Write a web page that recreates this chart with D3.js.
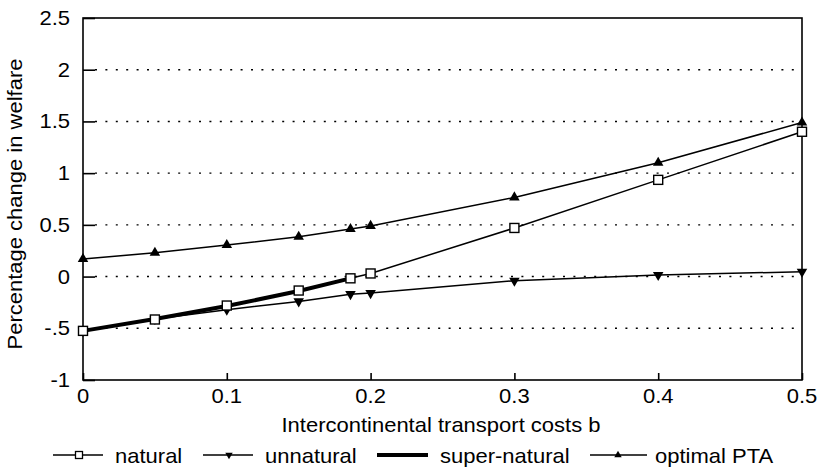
<!DOCTYPE html>
<html><head><meta charset="utf-8">
<script src="https://cdn.jsdelivr.net/npm/d3@7"></script>
<style>body{margin:0;background:#fff}svg{display:block}text{font-family:"Liberation Sans",Arial,sans-serif;fill:#000}</style>
</head><body><svg id="c" width="817" height="472"></svg>
<script>
const xs = [0, 0.05, 0.1, 0.15, 0.186, 0.2, 0.3, 0.4, 0.5];
const natural = [-0.525, -0.415, -0.28, -0.135, -0.017, 0.03, 0.47, 0.935, 1.40];
const unnatural = [-0.525, -0.41, -0.32, -0.24, -0.17, -0.16, -0.04, 0.015, 0.047];
const superX = [0, 0.05, 0.1, 0.15, 0.186];
const superNatural = [-0.525, -0.41, -0.285, -0.14, -0.017];
const optimal = [0.17, 0.23, 0.305, 0.385, 0.46, 0.49, 0.765, 1.10, 1.49];
const xTicks = [0, 0.1, 0.2, 0.3, 0.4, 0.5];
const xTickLabels = ["0", "0.1", "0.2", "0.3", "0.4", "0.5"];
const yTicks = [-1, -0.5, 0, 0.5, 1, 1.5, 2, 2.5];
const yTickLabels = ["-1", "-.5", "0", "0.5", "1", "1.5", "2", "2.5"];
const legendLabels = ["natural", "unnatural", "super-natural", "optimal PTA"];

const svg = d3.select("#c");
const x = d3.scaleLinear().domain([0, 0.5]).range([83, 802]);
const y = d3.scaleLinear().domain([-1, 2.5]).range([380, 18]);
const SX = 1.1; // horizontal stretch of the lettering
const FS = 20;

function label(g, px, py, txt, anchor, rot) {
  return g.append("text")
    .attr("transform", `translate(${px},${py})${rot ? " rotate(-90)" : ""} scale(${SX},1)`)
    .attr("text-anchor", anchor).style("font-size", FS + "px").text(txt);
}

// grid
svg.append("g").selectAll("line").data(yTicks.filter(v => v > -1 && v < 2.5)).join("line")
  .attr("x1", x(0) + 12).attr("x2", x(0.5)).attr("y1", d => y(d)).attr("y2", d => y(d))
  .attr("stroke", "#000").attr("stroke-width", 1.4).attr("stroke-dasharray", "2,8.4");

// frame
svg.append("rect").attr("x", x(0)).attr("y", y(2.5)).attr("width", x(0.5) - x(0)).attr("height", y(-1) - y(2.5))
  .attr("fill", "none").attr("stroke", "#000").attr("stroke-width", 1.6);

// axes with inward ticks
const gy = svg.append("g").attr("transform", `translate(${x(0)},0)`)
  .call(d3.axisLeft(y).tickValues(yTicks).tickFormat("").tickSizeInner(-12).tickSizeOuter(0));
gy.select(".domain").remove();
gy.selectAll("line").attr("stroke-width", 1.6);

const gx = svg.append("g").attr("transform", `translate(0,${y(-1)})`)
  .call(d3.axisBottom(x).tickValues(xTicks).tickFormat("").tickSizeInner(-7).tickSizeOuter(0));
gx.select(".domain").remove();
gx.selectAll("line").attr("stroke-width", 1.6);

const gl0 = svg.append("g");
yTicks.forEach((v, i) => label(gl0, 70, y(v) + 7, yTickLabels[i], "end"));
xTicks.forEach((v, i) => label(gl0, x(v), 403, xTickLabels[i], "middle"));

// titles
label(svg, 441, 432, "Intercontinental transport costs b", "middle");
label(svg, 22, 204, "Percentage change in welfare", "middle", true);

const line = d3.line().x(d => x(d[0])).y(d => y(d[1]));
const ser = (vals, xv) => vals.map((v, i) => [xv[i], v]);

function tri(g, pts, down, size) {
  g.selectAll("path.m").data(pts).join("path").attr("class", "m")
    .attr("d", d3.symbol().type(d3.symbolTriangle).size(size)()).attr("fill", "#000")
    .attr("transform", d => `translate(${x(d[0])},${y(d[1])})${down ? " rotate(180)" : ""}`);
}
function sq(g, pts) {
  g.selectAll("rect").data(pts).join("rect")
    .attr("x", d => x(d[0]) - 4.5).attr("y", d => y(d[1]) - 4.5).attr("width", 9).attr("height", 9)
    .attr("fill", "#fff").attr("stroke", "#000").attr("stroke-width", 1.4);
}

const gOpt = svg.append("g");
gOpt.append("path").attr("d", line(ser(optimal, xs))).attr("fill", "none").attr("stroke", "#000").attr("stroke-width", 1.5);
tri(gOpt, ser(optimal, xs), false, 48);

const gUn = svg.append("g");
gUn.append("path").attr("d", line(ser(unnatural, xs))).attr("fill", "none").attr("stroke", "#000").attr("stroke-width", 1.5);
tri(gUn, ser(unnatural, xs), true, 48);

const gSup = svg.append("g");
gSup.append("path").attr("d", line(ser(superNatural, superX))).attr("fill", "none").attr("stroke", "#000").attr("stroke-width", 4);

const gNat = svg.append("g");
gNat.append("path").attr("d", line(ser(natural, xs))).attr("fill", "none").attr("stroke", "#000").attr("stroke-width", 1.5);
sq(gNat, ser(natural, xs));

// legend
const leg = [
  {x0: 53, x1: 103, mx: 79, tx: 115, w: 1.4, m: "sq"},
  {x0: 203, x1: 253, mx: 229, tx: 265, w: 1.4, m: "down"},
  {x0: 377, x1: 428, mx: 0, tx: 440, w: 4, m: null},
  {x0: 590, x1: 647, mx: 618, tx: 655, w: 1.4, m: "up"}
];
const ly = 455;
const gl = svg.append("g");
leg.forEach((l, i) => {
  gl.append("line").attr("x1", l.x0).attr("x2", l.x1).attr("y1", ly).attr("y2", ly).attr("stroke", "#000").attr("stroke-width", l.w);
  if (l.m === "sq") gl.append("rect").attr("x", l.mx - 3.5).attr("y", ly - 3.5).attr("width", 7).attr("height", 7).attr("fill", "#fff").attr("stroke", "#000").attr("stroke-width", 1.3);
  if (l.m === "down" || l.m === "up") gl.append("path").attr("d", d3.symbol().type(d3.symbolTriangle).size(24)()).attr("fill", "#000")
    .attr("transform", `translate(${l.mx},${ly})${l.m === "down" ? " rotate(180)" : ""}`);
  label(gl, l.tx, ly + 8, legendLabels[i], "start");
});
</script></body></html>
